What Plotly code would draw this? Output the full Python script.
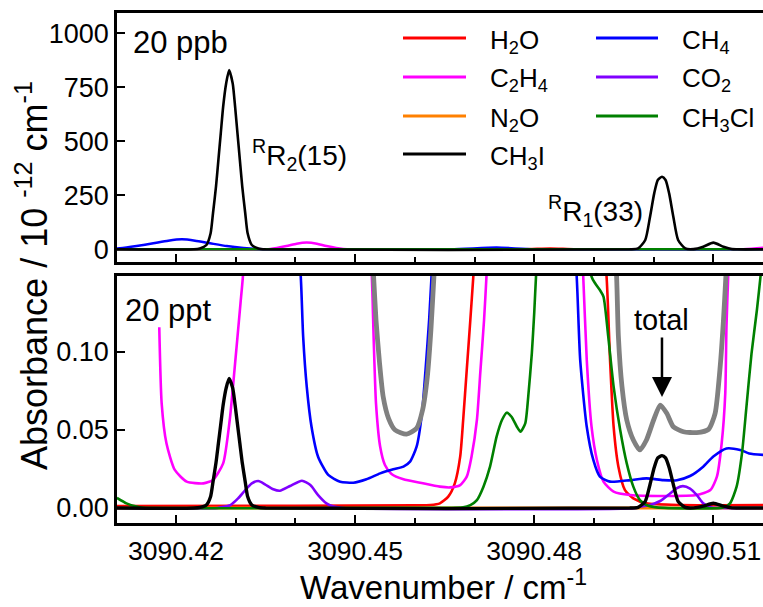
import plotly.graph_objects as go

# ---------------- data ----------------
# Upper panel: 20 ppb, absorbance / 1e-12 cm-1
top_h2o_wn = [3090.4101, 3090.4780, 3090.4827, 3090.4870, 3090.5184]
top_h2o = [0, 0, 4, 0, 0]

top_c2h4_wn = [3090.4101, 3090.4350, 3090.4358, 3090.4385, 3090.4402, 3090.4419,
               3090.4436, 3090.4452, 3090.4480, 3090.4503, 3090.5150, 3090.5184]
top_c2h4 = [0, 0, 1.5, 15, 26, 31, 26, 15, 1.5, 0, 0, 7]

top_n2o_wn = [3090.4101, 3090.4500, 3090.5184]
top_n2o = [0, 0, 0]

top_ch4_wn = [3090.4101, 3090.4106, 3090.4134, 3090.4162, 3090.4187, 3090.4210,
              3090.4232, 3090.4257, 3090.4285, 3090.4313, 3090.4335, 3090.4360,
              3090.4660, 3090.4737, 3090.4800, 3090.5184]
top_ch4 = [4, 4.6, 15, 28, 40, 46, 40, 28, 15, 6, 1.5, 0, 0, 8, 0, 0]

top_co2_wn = [3090.4101, 3090.4600, 3090.5184]
top_co2 = [0, 0, 0]

top_ch3cl_wn = [3090.4101, 3090.4600, 3090.5184]
top_ch3cl = [0, 0, 0]

ch3i_wn = [3090.4101, 3090.4230, 3090.4240, 3090.4251, 3090.4258, 3090.4262,
           3090.4267, 3090.4271, 3090.4275, 3090.4279, 3090.4284, 3090.4289,
           3090.4295, 3090.4299, 3090.4303, 3090.4307, 3090.4311, 3090.4316,
           3090.4320, 3090.4327, 3090.4338, 3090.4350, 3090.4960, 3090.4974,
           3090.4986, 3090.4994, 3090.5001, 3090.5007, 3090.5014, 3090.5020,
           3090.5026, 3090.5033, 3090.5041, 3090.5053, 3090.5067, 3090.5083,
           3090.5100, 3090.5117, 3090.5131, 3090.5140, 3090.5184]
top_ch3i = [0, 0, 4, 20, 74, 167, 290, 413, 537, 660, 768, 830,
            768, 660, 537, 413, 290, 167, 74, 20, 4, 0, 0, 4,
            43, 151, 259, 321, 336, 321, 259, 151, 43, 4, 1, 12,
            31, 12, 1, 0, 0]

# Lower panel: 20 ppt, absorbance
bot_h2o_wn = [3090.4101, 3090.4400, 3090.4600, 3090.4626, 3090.4642, 3090.4656,
              3090.4667, 3090.4676, 3090.4681, 3090.4687, 3090.4693, 3090.4698,
              3090.4705, 3090.4910, 3090.4921, 3090.4927, 3090.4933, 3090.4941,
              3090.4952, 3090.4966, 3090.4988, 3090.5044, 3090.5184]
bot_h2o = [0.0012, 0.0014, 0.0017, 0.0019, 0.0030, 0.0073,
           0.0158, 0.0329, 0.0564, 0.0885, 0.1205, 0.1483,
           0.19, 0.19, 0.1494, 0.0949, 0.0521, 0.0265,
           0.0115, 0.0062, 0.0030, 0.0019, 0.0019]

bot_c2h4_wn = [3090.4172, 3090.4176, 3090.4184, 3090.4198, 3090.4218, 3090.4246,
               3090.4262, 3090.4279, 3090.4290, 3090.4298, 3090.4308, 3090.4312,
               3090.4318, 3090.4520, 3090.4528, 3090.4531, 3090.4535, 3090.4542,
               3090.4550, 3090.4561, 3090.4581, 3090.4609, 3090.4642, 3090.4659,
               3090.4676, 3090.4687, 3090.4695, 3090.4704, 3090.4710, 3090.4716,
               3090.4720, 3090.4725, 3090.4876, 3090.4882, 3090.4888, 3090.4896,
               3090.4905, 3090.4916, 3090.4933, 3090.4961, 3090.5016, 3090.5072,
               3090.5095, 3090.5106, 3090.5114, 3090.5120, 3090.5122, 3090.5125,
               3090.5130, 3090.5184]
bot_c2h4 = [0.1158, 0.0671, 0.0415, 0.0244, 0.0169, 0.0158,
            0.0180, 0.0286, 0.0564, 0.0885, 0.1310, 0.1480,
            0.19, 0.19, 0.1483, 0.1098, 0.0671, 0.0393,
            0.0276, 0.0218, 0.0184, 0.0162, 0.0137, 0.0132,
            0.0147, 0.0201, 0.0329, 0.0564, 0.0885, 0.1205,
            0.1483, 0.19, 0.19, 0.1494, 0.0949, 0.0521,
            0.0308, 0.0169, 0.0105, 0.0083, 0.0077, 0.0083,
            0.0115, 0.0201, 0.0415, 0.0735, 0.1162, 0.1494,
            0.19, 0.19]

bot_n2o_wn = [3090.4101, 3090.4500, 3090.5184]
bot_n2o = [0, 0, 0]

bot_ch4_wn = [3090.4101, 3090.4400, 3090.4409, 3090.4413, 3090.4419, 3090.4427,
              3090.4438, 3090.4455, 3090.4475, 3090.4497, 3090.4519, 3090.4542,
              3090.4564, 3090.4581, 3090.4592, 3090.4603, 3090.4612, 3090.4618,
              3090.4624, 3090.4628, 3090.4635, 3090.4862, 3090.4871, 3090.4877,
              3090.4888, 3090.4899, 3090.4910, 3090.4927, 3090.4961, 3090.4988,
              3090.5016, 3090.5039, 3090.5061, 3090.5083, 3090.5100, 3090.5122,
              3090.5145, 3090.5160, 3090.5184]
bot_ch4 = [0.19, 0.19, 0.1483, 0.1098, 0.0778, 0.0521,
           0.0329, 0.0212, 0.0169, 0.0162, 0.0184, 0.0222,
           0.0248, 0.0265, 0.0297, 0.0393, 0.0607, 0.0885,
           0.1205, 0.1483, 0.19, 0.19, 0.1494, 0.0949,
           0.0521, 0.0308, 0.0201, 0.0169, 0.0179, 0.0190,
           0.0179, 0.0178, 0.0205, 0.0265, 0.0330, 0.0382,
           0.0372, 0.0350, 0.0340]

bot_co2_wn = [3090.4101, 3090.4270, 3090.4274, 3090.4291, 3090.4304, 3090.4316,
              3090.4327, 3090.4338, 3090.4349, 3090.4363, 3090.4374, 3090.4391,
              3090.4411, 3090.4425, 3090.4438, 3090.4452, 3090.4464, 3090.4480,
              3090.4970, 3090.4977, 3090.4994, 3090.5011, 3090.5028, 3090.5039,
              3090.5049, 3090.5061, 3090.5072, 3090.5083, 3090.5095, 3090.5110,
              3090.5184]
bot_co2 = [0, 0, 0.0004, 0.0019, 0.0062, 0.0115,
           0.0158, 0.0173, 0.0152, 0.0120, 0.0111, 0.0141,
           0.0175, 0.0147, 0.0083, 0.0030, 0.0009, 0,
           0, 0.0009, 0.0020, 0.0045, 0.0095, 0.0128,
           0.0140, 0.0125, 0.0085, 0.0030, 0.0005, 0,
           0]

bot_ch3cl_wn = [3090.4101, 3090.4117, 3090.4134, 3090.4145, 3090.4600, 3090.4681,
                3090.4693, 3090.4704, 3090.4715, 3090.4726, 3090.4737, 3090.4746,
                3090.4754, 3090.4762, 3090.4771, 3090.4777, 3090.4785, 3090.4790,
                3090.4796, 3090.4800, 3090.4803, 3090.4810, 3090.4890, 3090.4896,
                3090.4902, 3090.4910, 3090.4916, 3090.4924, 3090.4933, 3090.4944,
                3090.4955, 3090.4966, 3090.4977, 3090.4988, 3090.5005, 3090.5117,
                3090.5128, 3090.5139, 3090.5148, 3090.5156, 3090.5164, 3090.5173,
                3090.5179, 3090.5184]
bot_ch3cl = [0.0065, 0.0030, 0.0009, 0.0002, 0.0002, 0.0004,
             0.0019, 0.0051, 0.0137, 0.0265, 0.0457, 0.0564,
             0.0611, 0.0585, 0.0521, 0.0489, 0.0543, 0.0714,
             0.0991, 0.1248, 0.1483, 0.19, 0.19, 0.1483,
             0.1440, 0.1397, 0.1355, 0.1098, 0.0778, 0.0500,
             0.0286, 0.0137, 0.0051, 0.0019, 0.0004, 0.0004,
             0.0030, 0.0137, 0.0350, 0.0671, 0.0991, 0.1269,
             0.1483, 0.17]

bot_total_wn = [3090.4525, 3090.4531, 3090.4535, 3090.4541, 3090.4547, 3090.4556,
                3090.4567, 3090.4586, 3090.4603, 3090.4613, 3090.4621, 3090.4627,
                3090.4632, 3090.4638, 3090.4932, 3090.4938, 3090.4941, 3090.4947,
                3090.4955, 3090.4966, 3090.4977, 3090.4988, 3090.5000, 3090.5011,
                3090.5022, 3090.5033, 3090.5050, 3090.5072, 3090.5092, 3090.5103,
                3090.5111, 3090.5117, 3090.5121, 3090.5127]
bot_total = [0.19, 0.1483, 0.1205, 0.0927, 0.0714, 0.0575,
             0.0500, 0.0474, 0.0511, 0.0628, 0.0842, 0.1141,
             0.1483, 0.19, 0.19, 0.1483, 0.1098, 0.0778,
             0.0564, 0.0436, 0.0372, 0.0436, 0.0564, 0.0660,
             0.0607, 0.0521, 0.0489, 0.0483, 0.0504, 0.0607,
             0.0885, 0.1205, 0.1483, 0.19]

bot_ch3i = [0, 0, 0.0004, 0.0020, 0.0074, 0.0167, 0.0290, 0.0413, 0.0537, 0.0660,
            0.0768, 0.0830, 0.0768, 0.0660, 0.0537, 0.0413, 0.0290, 0.0167,
            0.0074, 0.0020, 0.0004, 0, 0, 0.0004, 0.0043, 0.0151, 0.0259,
            0.0321, 0.0336, 0.0321, 0.0259, 0.0151, 0.0043, 0.0004, 0.0001,
            0.0012, 0.0031, 0.0012, 0.0001, 0, 0]

# legend layout: (key, column, row)
legend_items = [("h2o", 0, 0), ("c2h4", 0, 1), ("n2o", 0, 2), ("ch3i", 0, 3),
                ("ch4", 1, 0), ("co2", 1, 1), ("ch3cl", 1, 2)]

# ---------------- style ----------------
FONT = "Liberation Sans, Arial, sans-serif"
C = dict(h2o="#FF0000", c2h4="#FF00FF", n2o="#FF8000", ch3i="#000000",
         ch4="#0000FF", co2="#8000FF", ch3cl="#008000", total="#808080")
names = dict(h2o="H<sub>2</sub>O", c2h4="C<sub>2</sub>H<sub>4</sub>", n2o="N<sub>2</sub>O",
             ch3i="CH<sub>3</sub>I", ch4="CH<sub>4</sub>", co2="CO<sub>2</sub>",
             ch3cl="CH<sub>3</sub>Cl", total="total")

fig = go.Figure()
SH = dict(shape="spline", smoothing=0.6)

def add(x, y, key, axes, lw):
    fig.add_trace(go.Scatter(
        x=x, y=y, mode="lines", name=names[key],
        line=dict(color=C[key], width=lw, **SH),
        xaxis=axes[0], yaxis=axes[1], showlegend=False, hoverinfo="skip"))

top = ("x", "y")
bot = ("x2", "y2")
add(top_h2o_wn, top_h2o, "h2o", top, 2.5)
add(top_c2h4_wn, top_c2h4, "c2h4", top, 2.5)
add(top_n2o_wn, top_n2o, "n2o", top, 2.5)
add(top_ch4_wn, top_ch4, "ch4", top, 2.5)
add(top_co2_wn, top_co2, "co2", top, 2.5)
add(top_ch3cl_wn, top_ch3cl, "ch3cl", top, 2.5)
add(ch3i_wn, top_ch3i, "ch3i", top, 2.6)

add(bot_h2o_wn, bot_h2o, "h2o", bot, 2.6)
add(bot_c2h4_wn, bot_c2h4, "c2h4", bot, 2.6)
add(bot_n2o_wn, bot_n2o, "n2o", bot, 3)
add(bot_ch4_wn, bot_ch4, "ch4", bot, 2.6)
add(bot_co2_wn, bot_co2, "co2", bot, 2.6)
add(bot_ch3cl_wn, bot_ch3cl, "ch3cl", bot, 2.6)
add(bot_total_wn, bot_total, "total", bot, 4.8)
add(ch3i_wn, bot_ch3i, "ch3i", bot, 3.4)

XR = [3090.41012, 3090.51832]
xcommon = dict(range=XR, showline=True, linewidth=2.5, linecolor="black", mirror=True,
               ticks="inside", ticklen=8, tickwidth=2, tickcolor="black",
               tick0=3090.42, dtick=0.03, showgrid=False, zeroline=False,
               minor=dict(tick0=3090.42, dtick=0.01, ticks="inside", ticklen=5,
                          tickwidth=2, tickcolor="black", showgrid=False),
               tickfont=dict(family=FONT, size=26.5, color="black"))
ycommon = dict(showline=True, linewidth=2.5, linecolor="black", mirror=False,
               ticks="inside", ticklen=8, tickwidth=2, tickcolor="black",
               showgrid=False, zeroline=False,
               tickfont=dict(family=FONT, size=27, color="black"))

W, H = 763, 607
ML, MR, MT, MB = 117, 0, 13, 84
PW, PH = W - ML - MR, H - MT - MB

def px(xp):
    return (xp - ML) / PW

def py(yp):
    return (H - MB - yp) / PH

fig.update_layout(
    width=W, height=H, margin=dict(l=ML, r=MR, t=MT, b=MB),
    paper_bgcolor="white", plot_bgcolor="white",
    font=dict(family=FONT, color="black"),
    xaxis=dict(domain=[0, 1], anchor="y", showticklabels=False, matches="x2", **xcommon),
    xaxis2=dict(domain=[0, 1], anchor="y2", showticklabels=True, tickformat=".2f",
                ticklabelstandoff=2, **xcommon),
    yaxis=dict(domain=[py(261.7), 1], anchor="x", range=[-57.4, 1094],
               tickvals=[0, 250, 500, 750, 1000], **ycommon),
    yaxis2=dict(domain=[0, py(275.5)], anchor="x2", range=[-0.0096, 0.149],
                tickvals=[0, 0.05, 0.10], tickformat=".2f", **ycommon),
    showlegend=False,
)

ann = []
shapes = []

def text(s, x, y, size, xanchor="left"):
    ann.append(dict(text=s, x=px(x), y=py(y), xref="paper", yref="paper",
                    xanchor=xanchor, yanchor="middle", showarrow=False,
                    font=dict(family=FONT, size=size, color="black")))

# legend (two columns)
col_line_x = [(403, 466), (596, 658)]
col_text_x = [488, 680]
row_y = [38, 77, 116, 154]
for key, col, row in legend_items:
    x0, x1 = col_line_x[col]
    shapes.append(dict(type="line", xref="paper", yref="paper",
                       x0=px(x0), x1=px(x1), y0=py(row_y[row]), y1=py(row_y[row]),
                       line=dict(color=C[key], width=3)))
    text(names[key], col_text_x[col], row_y[row] + 3, 26)

text("20 ppb", 131, 42, 31)
text("20 ppt", 123, 311, 31)
text("<sup>R</sup>R<sub>2</sub>(15)", 250, 155, 28)
text("<sup>R</sup>R<sub>1</sub>(33)", 546, 211, 28)
ann.append(dict(text="Absorbance / 10 <sup>-12</sup> cm<sup>-1</sup>", x=px(32), y=py(276),
                xref="paper", yref="paper", xanchor="center", yanchor="middle",
                textangle=-90, showarrow=False, font=dict(family=FONT, size=36, color="black")))
ann.append(dict(text="Wavenumber / cm<sup>-1</sup>", x=px(443), y=py(585),
                xref="paper", yref="paper", xanchor="center", yanchor="middle",
                showarrow=False, font=dict(family=FONT, size=33, color="black")))
ann.append(dict(text="total", x=3090.5014, y=0.0712, xref="x2", yref="y2",
                showarrow=True, arrowhead=2, arrowsize=1.6, arrowwidth=2.5,
                arrowcolor="black", ax=0, ay=-77, standoff=0,
                font=dict(family=FONT, size=29, color="black")))
fig.update_layout(annotations=ann, shapes=shapes)

fig.write_html("out.html", config={"displayModeBar": False},
               post_script="document.body.style.margin='0px';"
                           "document.documentElement.style.overflow='hidden';")
